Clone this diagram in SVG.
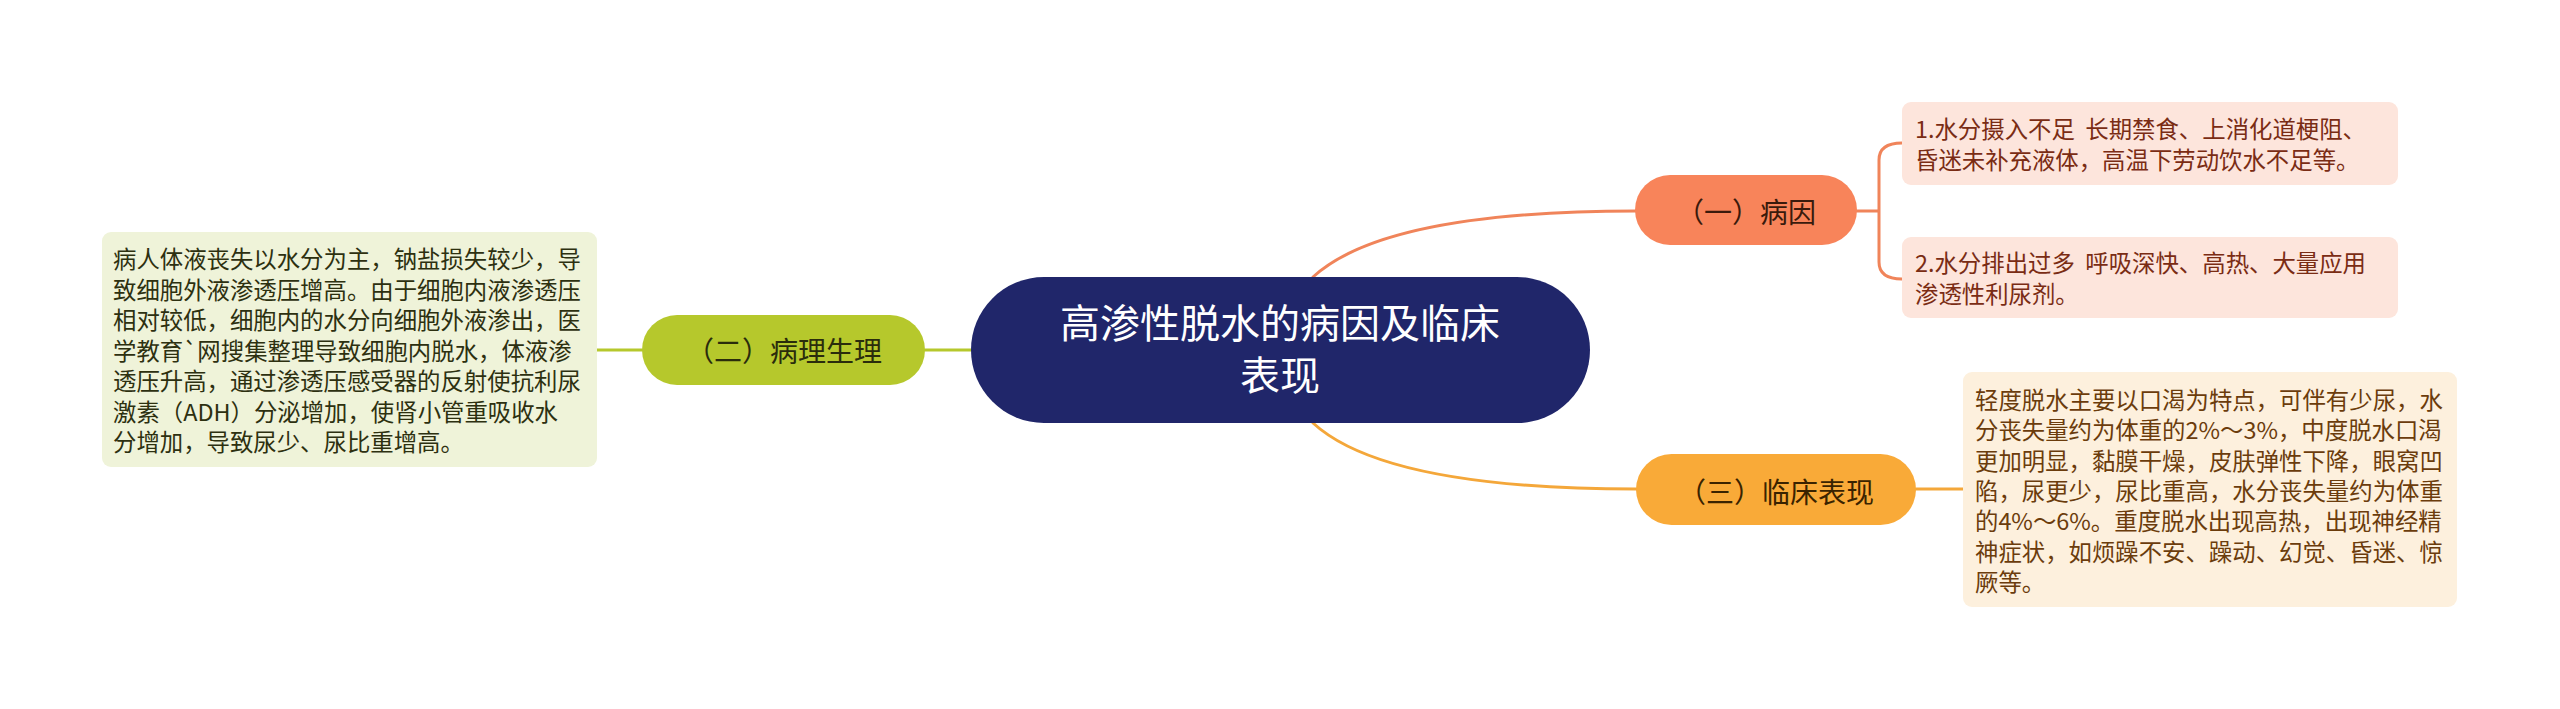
<svg xmlns="http://www.w3.org/2000/svg" width="2560" height="709" viewBox="0 0 2560 709">
<style>
text{font-family:"Noto Sans CJK SC","Noto Sans",sans-serif;white-space:pre}
.conn{fill:none;stroke-width:3;stroke-linecap:round}
.t23{font-size:23.4px}
.t28{font-size:28px}
.mid{text-anchor:middle}
</style>
<rect width="2560" height="709" fill="#ffffff"/>
<g id="connectors">
<path class="conn" stroke="#b6c82c" d="M925 350 H971"/>
<path class="conn" stroke="#b6c82c" d="M597 350 H642"/>
<path class="conn" stroke="#f0845a" d="M1313 277 Q1385 211 1636 211"/>
<path class="conn" stroke="#f4a73a" d="M1313 423 Q1385 489 1636 489"/>
<path class="conn" stroke="#f0845a" d="M1857 211 H1879 M1879 211 V160 Q1879 143 1902 143 M1879 211 V262 Q1879 279 1902 279"/>
<path class="conn" stroke="#f4a73a" d="M1916 489 H1963"/>
</g>
<g id="root">
<rect x="971" y="277" width="619" height="146" rx="73" fill="#20266a"/>
<text class="mid" x="1280" y="337.5" font-size="40" fill="#ffffff">高渗性脱水的病因及临床</text>
<text class="mid" x="1280" y="390" font-size="40" fill="#ffffff">表现</text>
</g>
<g id="n2">
<rect x="642" y="315" width="283" height="70" rx="35" fill="#b6c82c"/>
<text class="t28 mid" x="784" y="361.5" fill="#2a2c0c">（二）病理生理</text>
</g>
<g id="n2a">
<rect x="102" y="232" width="495" height="235" rx="9" fill="#eff3d9"/>
<g class="t23" fill="#2d3010">
<text x="113" y="268">病人体液丧失以水分为主，钠盐损失较少，导</text>
<text x="113" y="298.5">致细胞外液渗透压增高。由于细胞内液渗透压</text>
<text x="113" y="329">相对较低，细胞内的水分向细胞外液渗出，医</text>
<text x="113" y="359.5">学教育`网搜集整理导致细胞内脱水，体液渗</text>
<text x="113" y="390">透压升高，通过渗透压感受器的反射使抗利尿</text>
<text x="113" y="420.5">激素（ADH）分泌增加，使肾小管重吸收水</text>
<text x="113" y="451">分增加，导致尿少、尿比重增高。</text>
</g>
</g>
<g id="n1">
<rect x="1635" y="175" width="222" height="70" rx="35" fill="#f8845a"/>
<text class="t28 mid" x="1746" y="222.5" fill="#3a1a0c">（一）病因</text>
</g>
<g id="n1a">
<rect x="1902" y="102" width="496" height="83" rx="9" fill="#fde5dc"/>
<g class="t23" fill="#7a2c14">
<text x="1915" y="138">1.水分摄入不足  长期禁食、上消化道梗阻、</text>
<text x="1915" y="169">昏迷未补充液体，高温下劳动饮水不足等。</text>
</g>
</g>
<g id="n1b">
<rect x="1902" y="237" width="496" height="81" rx="9" fill="#fde5dc"/>
<g class="t23" fill="#7a2c14">
<text x="1915" y="272">2.水分排出过多  呼吸深快、高热、大量应用</text>
<text x="1915" y="303">渗透性利尿剂。</text>
</g>
</g>
<g id="n3">
<rect x="1636" y="454" width="280" height="71" rx="35.5" fill="#f9aa38"/>
<text class="t28 mid" x="1776" y="502.5" fill="#3a2300">（三）临床表现</text>
</g>
<g id="n3a">
<rect x="1963" y="372" width="494" height="235" rx="9" fill="#fdf0dd"/>
<g class="t23" fill="#6b3c0c">
<text x="1975" y="409">轻度脱水主要以口渴为特点，可伴有少尿，水</text>
<text x="1975" y="439.3">分丧失量约为体重的2%～3%，中度脱水口渴</text>
<text x="1975" y="469.6">更加明显，黏膜干燥，皮肤弹性下降，眼窝凹</text>
<text x="1975" y="499.9">陷，尿更少，尿比重高，水分丧失量约为体重</text>
<text x="1975" y="530.2">的4%～6%。重度脱水出现高热，出现神经精</text>
<text x="1975" y="560.5">神症状，如烦躁不安、躁动、幻觉、昏迷、惊</text>
<text x="1975" y="590.8">厥等。</text>
</g>
</g>
</svg>
